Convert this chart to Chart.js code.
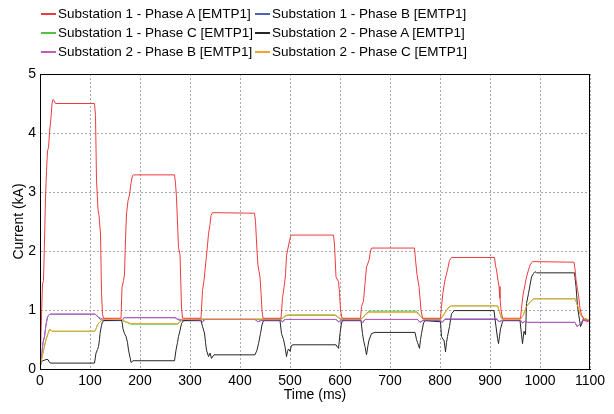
<!DOCTYPE html>
<html>
<head>
<meta charset="utf-8">
<script src="https://cdn.jsdelivr.net/npm/chart.js@4/dist/chart.umd.min.js"></script>
<style>
  body { margin: 0; background: #fff; }
  #wrap { position: relative; width: 614px; height: 414px; }
  #legend {
    position: absolute; left: 41px; top: 4px;
    display: grid; grid-template-columns: 214px 214px;
    font: 13.5px "Liberation Sans", Arial, sans-serif; color: #000;
  }
  #legend .item { display: flex; align-items: center; height: 19px; white-space: nowrap; }
  #legend .swatch { width: 15px; height: 2px; margin-right: 2px; }
</style>
</head>
<body>
<div id="wrap">
  <canvas id="chart" width="614" height="414"></canvas>
  <div id="legend"></div>
</div>
<script>
// [time ms, current kA]
let seriesNames = [
    'Substation 1 - Phase A [EMTP1]', 'Substation 1 - Phase B [EMTP1]',
    'Substation 1 - Phase C [EMTP1]', 'Substation 2 - Phase A [EMTP1]',
    'Substation 2 - Phase B [EMTP1]', 'Substation 2 - Phase C [EMTP1]'
];
let seriesColors = ['#ee3b3f', '#4e62b4', '#52c043', '#262626', '#c25cc0', '#f5a431'];

let sub1PhaseA = [
    [0,0.02],[3,0.9],[5,1.44],[7,1.5],[9,2.17],[11,2.9],[13,3.36],[15,3.7],[17,3.75],[19,4.0],[22,4.27],[24,4.5],[26,4.57],[28,4.55],[31,4.5],
    [109,4.5],[111,4.3],[113,3.2],[116,2.7],[118,2.6],[121,2.29],[123,1.3],[125,0.93],[127,0.86],
    [162,0.86],[164,1.38],[167,1.5],[169,1.61],[171,2.2],[173,2.63],[176,2.85],[179,2.95],[182,3.15],[185,3.28],[187,3.29],
    [269,3.29],[271,3.15],[273,2.9],[277,2.06],[280,1.94],[283,1.05],[285,0.86],
    [322,0.86],[325,1.33],[328,1.5],[332,1.84],[335,2.1],[337,2.29],[340,2.45],[342,2.6],[345,2.65],
    [429,2.64],[431,2.5],[434,2.0],[436,1.75],[440,1.56],[442,1.3],[444,0.99],[446,0.86],
    [482,0.86],[485,1.21],[488,1.38],[491,1.6],[493,1.92],[496,2.05],[499,2.17],[501,2.24],[503,2.27],
    [587,2.27],[589,2.1],[592,1.56],[597,1.48],[599,1.3],[601,1.0],[604,0.86],
    [641,0.86],[643,1.06],[647,1.15],[650,1.45],[653,1.73],[658,1.84],[661,2.0],[663,2.05],
    [749,2.05],[751,1.85],[754,1.6],[758,1.4],[760,1.2],[762,1.0],[765,0.86],
    [801,0.86],[803,1.06],[806,1.3],[810,1.51],[815,1.68],[819,1.84],[823,1.89],
    [909,1.89],[911,1.75],[913,1.68],[916,1.5],[918,1.4],[920,1.2],[922,1.0],[925,0.86],
    [961,0.86],[963,1.03],[966,1.25],[968,1.34],[973,1.56],[977,1.68],[980,1.76],[983,1.8],[985,1.82],
    [1068,1.81],[1070,1.7],[1072,1.51],[1075,1.35],[1077,1.25],[1080,1.03],[1083,0.92],[1087,0.85],[1093,0.8],[1100,0.82]
];
let sub1PhaseB = [
    [0,0],[3,0.2],[6,0.45],[9,0.55],[12,0.75],[15,0.88],[18,0.92],[21,0.93],[110,0.93],[113,0.91],[117,0.87],[121,0.84],[125,0.82],
    [162,0.82],[165,0.83],[168,0.87],[270,0.87],[275,0.84],[282,0.82],
    [322,0.82],[325,0.8],[330,0.84],[430,0.84],[436,0.8],[442,0.82],
    [482,0.82],[485,0.8],[490,0.84],[592,0.84],[597,0.8],[603,0.82],
    [642,0.82],[645,0.78],[650,0.84],[755,0.84],[760,0.79],[766,0.82],
    [801,0.82],[804,0.79],[810,0.84],[914,0.84],[918,0.8],[924,0.82],
    [961,0.82],[965,0.78],[970,0.81],[975,0.79],[1070,0.79],[1074,0.72],[1079,0.75],[1086,0.82],[1100,0.82]
];
let sub1PhaseC = [
    [0,0],[4,0.2],[8,0.35],[12,0.5],[16,0.6],[19,0.67],[22,0.66],[25,0.64],[109,0.64],[112,0.68],[115,0.75],[120,0.8],[124,0.83],[128,0.84],
    [163,0.84],[167,0.81],[173,0.79],[182,0.76],[275,0.76],[280,0.8],[285,0.84],
    [482,0.84],[487,0.87],[492,0.9],[497,0.91],[590,0.91],[595,0.88],[602,0.84],
    [642,0.84],[647,0.88],[652,0.94],[658,0.98],[663,0.98],[752,0.98],[757,0.94],[762,0.88],[768,0.84],
    [801,0.84],[805,0.89],[812,0.98],[818,1.05],[823,1.07],[915,1.07],[919,0.97],[923,0.86],[927,0.84],
    [960,0.84],[966,0.9],[973,1.06],[980,1.13],[987,1.19],[1070,1.19],[1075,1.08],[1080,0.94],[1085,0.88],[1090,0.85],[1100,0.83]
];
let sub2PhaseA = [
    [0,0],[2,0.12],[6,0.14],[12,0.16],[16,0.16],[19,0.11],[22,0.1],[109,0.1],[112,0.27],[115,0.33],[117,0.38],[119,0.5],[120,0.6],[123,0.74],[125,0.8],[128,0.82],
    [162,0.83],[164,0.8],[166,0.68],[169,0.6],[172,0.55],[175,0.45],[177,0.32],[180,0.2],[182,0.11],[186,0.14],
    [269,0.14],[272,0.32],[275,0.45],[277,0.55],[280,0.65],[283,0.77],[287,0.82],
    [322,0.82],[325,0.72],[329,0.61],[331,0.45],[333,0.32],[337,0.21],[340,0.27],[343,0.18],[346,0.22],[348,0.24],
    [430,0.24],[434,0.32],[437,0.43],[441,0.6],[444,0.75],[447,0.82],
    [480,0.82],[483,0.6],[487,0.5],[490,0.38],[493,0.21],[495,0.3],[497,0.34],[500,0.3],[503,0.4],[506,0.41],
    [592,0.41],[595,0.37],[597,0.35],[600,0.6],[603,0.78],[605,0.82],
    [642,0.82],[645,0.6],[647,0.49],[650,0.38],[653,0.24],[656,0.4],[658,0.49],[663,0.6],[670,0.62],
    [750,0.62],[753,0.5],[755,0.45],[759,0.35],[761,0.5],[763,0.6],[767,0.78],[770,0.82],
    [801,0.8],[803,0.55],[806,0.5],[808,0.49],[811,0.29],[813,0.45],[815,0.55],[819,0.72],[823,0.94],[829,0.99],
    [908,0.99],[910,0.85],[912,0.72],[915,0.52],[917,0.43],[919,0.55],[921,0.68],[925,0.8],[927,0.82],
    [960,0.82],[963,0.58],[965,0.43],[968,0.64],[971,0.58],[973,1.11],[977,1.28],[983,1.56],[987,1.62],[990,1.65],[993,1.63],
    [1069,1.63],[1072,1.4],[1075,1.06],[1079,0.83],[1081,0.72],[1084,0.78],[1087,0.86],[1093,0.84],[1100,0.82]
];
let sub2PhaseB = [
    [0,0],[3,0.2],[6,0.45],[9,0.55],[12,0.75],[15,0.88],[18,0.92],[21,0.93],[110,0.93],[113,0.91],[117,0.88],[121,0.86],[125,0.85],
    [162,0.84],[165,0.84],[168,0.87],[270,0.87],[275,0.85],[282,0.84],
    [322,0.83],[325,0.8],[330,0.84],[430,0.84],[436,0.8],[442,0.83],
    [482,0.83],[485,0.8],[490,0.84],[592,0.84],[597,0.8],[603,0.83],
    [642,0.83],[645,0.78],[650,0.84],[755,0.84],[760,0.79],[766,0.83],
    [801,0.83],[804,0.79],[810,0.85],[914,0.85],[918,0.8],[924,0.83],
    [961,0.83],[965,0.78],[970,0.81],[975,0.79],[1070,0.79],[1074,0.72],[1079,0.75],[1086,0.83],[1100,0.82]
];
let sub2PhaseC = [
    [0,0],[4,0.2],[8,0.35],[12,0.5],[16,0.6],[19,0.67],[22,0.66],[25,0.64],[109,0.64],[112,0.68],[115,0.75],[120,0.8],[124,0.83],[128,0.84],
    [163,0.84],[167,0.82],[173,0.8],[182,0.77],[275,0.77],[280,0.8],[285,0.84],
    [322,0.85],[446,0.85],
    [482,0.85],[487,0.88],[492,0.91],[497,0.92],[590,0.92],[595,0.89],[602,0.85],
    [642,0.85],[647,0.88],[652,0.93],[658,0.96],[663,0.96],[752,0.96],[757,0.93],[762,0.88],[768,0.85],
    [801,0.85],[805,0.89],[812,0.98],[818,1.05],[823,1.07],[915,1.07],[919,0.97],[923,0.86],[927,0.84],
    [960,0.84],[966,0.9],[973,1.06],[980,1.13],[987,1.19],[1070,1.19],[1075,1.08],[1080,0.94],[1085,0.88],[1090,0.85],[1100,0.83]
];

let allSeries = [sub1PhaseA, sub1PhaseB, sub1PhaseC, sub2PhaseA, sub2PhaseB, sub2PhaseC];
// lower number is drawn on top
let drawOrder = [0, 5, 4, 3, 2, 1];

let xTicks = { min: 0, max: 1100, step: 100 };
let yTicks = { min: 0, max: 5, step: 1 };

// black box around the plot area
let framePlugin = {
    id: 'frame',
    afterDraw: function(chart) {
        let a = chart.chartArea;
        let ctx = chart.ctx;
        ctx.save();
        ctx.strokeStyle = '#000';
        ctx.lineWidth = 1;
        ctx.strokeRect(Math.round(a.left) + 0.5, Math.round(a.top) + 0.5, Math.round(a.right - a.left) - 1, Math.round(a.bottom - a.top));
        ctx.restore();
    }
};

let font = { family: '"Liberation Sans", Arial, sans-serif', size: 14 };

let datasets = allSeries.map(function(s, i) {
    return {
        label: seriesNames[i],
        data: s.map(function(p) { return { x: p[0], y: p[1] }; }),
        borderColor: seriesColors[i],
        borderWidth: 1,
        pointRadius: 0,
        tension: 0,
        order: drawOrder[i]
    };
});

let ctx = document.getElementById('chart').getContext('2d');
let chart = new Chart(ctx, {
    type: 'line',
    data: { datasets: datasets },
    options: {
        responsive: false,
        animation: false,
        layout: { padding: { top: 74, right: 24, left: 0, bottom: 0 } },
        plugins: { legend: { display: false }, tooltip: { enabled: false } },
        scales: {
            x: {
                type: 'linear',
                min: xTicks.min, max: xTicks.max,
                afterFit: function(scale) { scale.height = 45; },
                ticks: { stepSize: xTicks.step, color: '#000', font: font, padding: 4, maxRotation: 0,
                         callback: function(v) { return String(v); } },
                grid: { color: '#a8a8a8', drawTicks: false },
                border: { display: true, color: '#000', dash: [2, 2] },
                title: { display: true, text: 'Time (ms)', color: '#000', font: font, padding: { top: 0, bottom: 10 } }
            },
            y: {
                min: yTicks.min, max: yTicks.max,
                afterFit: function(scale) { scale.width = 40; },
                ticks: { stepSize: yTicks.step, color: '#000', font: font, padding: 4 },
                grid: { color: '#a8a8a8', drawTicks: false },
                border: { display: true, color: '#000', dash: [2, 2] },
                title: { display: true, text: 'Current (kA)', color: '#000', font: font, padding: { top: 11, bottom: 0 } }
            }
        }
    },
    plugins: [framePlugin]
});

// two-column legend above the plot
let legendBox = document.getElementById('legend');
seriesNames.forEach(function(name, i) {
    let item = document.createElement('div');
    item.className = 'item';
    let sw = document.createElement('span');
    sw.className = 'swatch';
    sw.style.background = seriesColors[i];
    let txt = document.createElement('span');
    txt.textContent = name;
    item.appendChild(sw);
    item.appendChild(txt);
    legendBox.appendChild(item);
});
</script>
</body>
</html>
